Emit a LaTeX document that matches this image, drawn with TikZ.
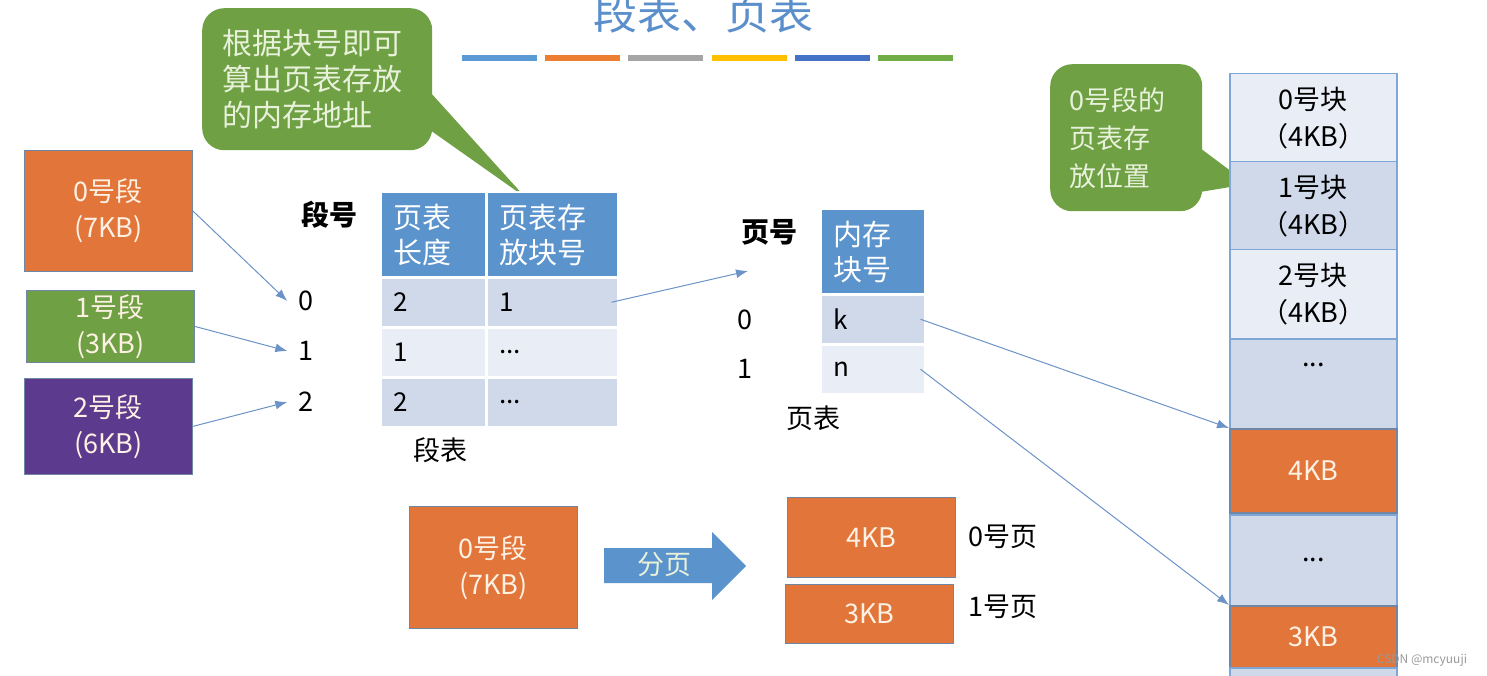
\documentclass[tikz,border=0pt]{standalone}
\usepackage{fontspec}
\setmainfont{Noto Sans CJK SC}
\usetikzlibrary{arrows.meta, positioning}
\definecolor{segorange}{HTML}{E2753A}
\definecolor{seggreen}{HTML}{6FA043}
\definecolor{segpurple}{HTML}{5C3B8E}
\definecolor{headblue}{HTML}{5B93CC}
\definecolor{rowdark}{HTML}{CFD9EA}
\definecolor{rowlight}{HTML}{E9EDF5}
\definecolor{arrowblue}{HTML}{6B93C7}
\definecolor{titleblue}{HTML}{5B8FCB}
\definecolor{memline}{HTML}{7FA7D6}
\definecolor{boxline}{HTML}{6F86A6}
\definecolor{cream}{HTML}{FDF1E4}
\definecolor{calltext}{HTML}{E8F1DA}
\definecolor{barblue}{HTML}{5B9BD5}
\definecolor{barorange}{HTML}{ED7D31}
\definecolor{bargray}{HTML}{A5A5A5}
\definecolor{baryellow}{HTML}{FFC000}
\definecolor{bardarkblue}{HTML}{4472C4}
\definecolor{bargreen}{HTML}{70AD47}

\begin{document}
\begin{tikzpicture}[
    x=1pt, y=-1pt,
    seg/.style={rectangle, draw=boxline, line width=0.8pt, text=cream, align=center, anchor=north west, font=\fontsize{27}{36}\selectfont, inner sep=0pt},
    head/.style={rectangle, draw=white, line width=2.5pt, fill=headblue, text=white, anchor=north west, align=left, font=\fontsize{29}{35}\selectfont, inner xsep=13pt, inner ysep=0pt},
    cell/.style={rectangle, draw=white, line width=2.5pt, anchor=north west, align=left, font=\fontsize{26}{30}\selectfont, inner xsep=13pt, inner ysep=0pt},
    mem/.style={rectangle, draw=memline, line width=1.5pt, minimum width=167pt, anchor=north west, align=center, font=\fontsize{27}{37}\selectfont, inner sep=0pt},
    callout/.style={rectangle, rounded corners=22pt, fill=seggreen, text=calltext, align=left, anchor=north west, inner ysep=0pt},
    lbl/.style={font=\fontsize{27}{32}\selectfont, inner sep=2pt},
    boldlbl/.style={font=\fontsize{28}{32}\selectfont\bfseries, inner sep=2pt},
    arr/.style={-{Latex[length=12pt, width=9pt]}, line width=1pt, draw=arrowblue}
]
\useasboundingbox (0,0) rectangle (1487,676);

% Title
\node[font=\fontsize{44}{44}\selectfont, text=titleblue] (title) at (703,13) {段表、页表};
\foreach \c [count=\i from 0] in {barblue,barorange,bargray,baryellow,bardarkblue,bargreen}
    \fill[\c] (462+\i*83.2,55) rectangle ++(75,6);

% Callouts
\node[callout, minimum width=230pt, minimum height=142pt, inner xsep=20pt, text width=190pt, font=\fontsize{30}{36}\selectfont] (hint1) at (202,8) {根据块号即可\\算出页表存放\\的内存地址};
\fill[seggreen] (430,92) -- (525,197) -- (430,130) -- cycle;
\node[callout, minimum width=152pt, minimum height=147pt, inner xsep=19pt, text width=114pt, font=\fontsize{27}{38}\selectfont] (hint2) at (1050,64) {0号段的\\页表存\\放位置};
\fill[seggreen] (1200,148) -- (1248,184) -- (1200,192) -- cycle;

% Segments
\node[seg, fill=segorange, minimum width=168pt, minimum height=121pt] (s0) at (24,150) {0号段\\(7KB)};
\node[seg, fill=seggreen, minimum width=168pt, minimum height=72pt] (s1) at (26,290) {1号段\\(3KB)};
\node[seg, fill=segpurple, minimum width=168pt, minimum height=96pt] (s2) at (24,378) {2号段\\(6KB)};

% Segment table
\node[boldlbl] (segno) at (329,215) {段号};
\node[lbl] (r0) at (306,301) {0};
\node[lbl] (r1) at (306,351) {1};
\node[lbl] (r2) at (306,402) {2};
\node[head, text width=80pt, minimum height=85pt] (hlen) at (379,191) {页表\\长度};
\node[head, text width=106pt, minimum height=85pt] (hblk) at (485,191) {页表存\\放块号};
\node[cell, fill=rowdark, text width=80pt, minimum height=50pt] (len0) at (379,276) {2};
\node[cell, fill=rowdark, text width=106pt, minimum height=50pt] (blk0) at (485,276) {1};
\node[cell, fill=rowlight, text width=80pt, minimum height=50pt] (len1) at (379,326) {1};
\node[cell, fill=rowlight, text width=106pt, minimum height=50pt] (blk1) at (485,326) {...};
\node[cell, fill=rowdark, text width=80pt, minimum height=50pt] (len2) at (379,376) {2};
\node[cell, fill=rowdark, text width=106pt, minimum height=50pt] (blk2) at (485,376) {...};
\node[lbl] (segtab) at (440,450) {段表};

% Page table
\coordinate (pgentry) at (748,271);
\node[boldlbl] (pageno) at (769,232) {页号};
\node[lbl] (p0) at (745,320) {0};
\node[lbl] (p1) at (745,369) {1};
\node[head, text width=79pt, minimum height=85pt] (hframe) at (819,208) {内存\\块号};
\node[cell, fill=rowdark, text width=79pt, minimum height=50pt] (pk) at (819,293) {k};
\node[cell, fill=rowlight, text width=79pt, minimum height=50pt] (pn) at (819,343) {n};
\node[lbl] (pagetab) at (813,418) {页表};

% Memory
\node[mem, fill=rowlight, minimum height=88pt] (m0) at (1229,73) {0号块\\（4KB）};
\node[mem, fill=rowdark, minimum height=88pt] (m1) at (1229,161) {1号块\\（4KB）};
\node[mem, fill=rowlight, minimum height=89pt] (m2) at (1229,249) {2号块\\（4KB）};
\node[mem, fill=rowdark, minimum height=90pt] (mdots1) at (1229,338) {...\\\mbox{}};
\node[mem, fill=segorange, draw=boxline, text=cream, minimum height=84pt] (m4) at (1229,428) {4KB};
\node[mem, fill=rowdark, minimum height=91pt] (mdots2) at (1229,514) {...};
\node[mem, fill=segorange, draw=boxline, text=cream, minimum height=62pt] (m3) at (1229,605) {3KB};
\node[mem, fill=rowdark, minimum height=20pt] (mrest) at (1229,667) {};

% Paging
\node[seg, fill=segorange, minimum width=168pt, minimum height=122pt] (whole) at (409,506) {0号段\\(7KB)};
\fill[headblue] (604,548) -- (712,548) -- (712,532) -- (746,566) -- (712,600) -- (712,583) -- (604,583) -- cycle;
\node[font=\fontsize{27}{30}\selectfont, text=calltext] (split) at (664,565) {分页};
\node[seg, fill=segorange, minimum width=168pt, minimum height=80pt] (pg0) at (787,497) {4KB};
\node[seg, fill=segorange, minimum width=168pt, minimum height=59pt] (pg1) at (785,584) {3KB};
\node[lbl] (pl0) at (1003,537) {0号页};
\node[lbl] (pl1) at (1003,607) {1号页};

% Arrows
\draw[arr] (s0.east) -- ([xshift=-9pt]r0.west);
\draw[arr] (s1.east) -- ([xshift=-9pt]r1.west);
\draw[arr] (s2.east) -- ([xshift=-9pt]r2.west);
\draw[arr] ([xshift=-8pt]blk0.east) -- (pgentry);
\draw[arr] ([xshift=-6pt]pk.east) -- (m4.north west);
\draw[arr] ([xshift=-6pt]pn.east) -- (m3.north west);

\node[font=\fontsize{12}{12}\selectfont, text=gray!80] (mark) at (1422,660) {CSDN @mcyuuji};

\end{tikzpicture}
\end{document}
